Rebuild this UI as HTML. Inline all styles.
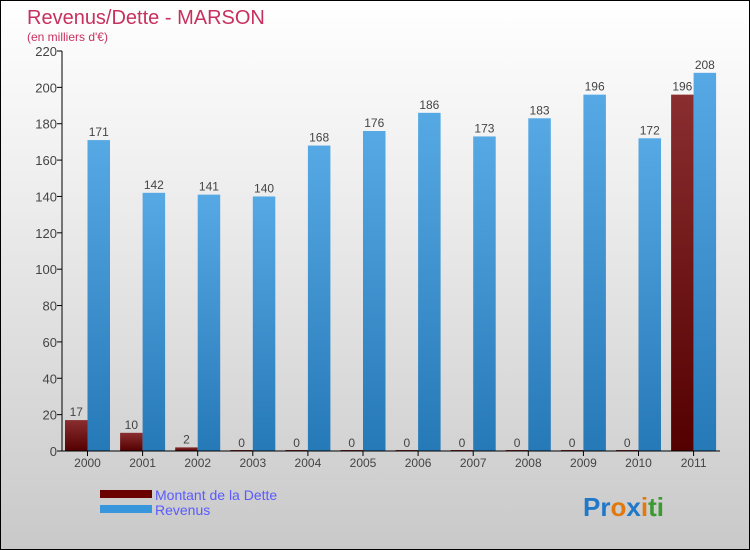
<!DOCTYPE html>
<html><head><meta charset="utf-8"><style>
body{margin:0;}
#wrap{position:relative;width:748px;height:548px;border:1px solid #000;background:linear-gradient(#fff,#f0f0f0 30%,#c9c9c9);font-family:"Liberation Sans",sans-serif;overflow:hidden}
</style></head><body>
<div id="wrap">
<svg id="c" width="748" height="548">
<defs>
<linearGradient id="gb" x1="0" y1="0" x2="0" y2="1"><stop offset="0" stop-color="#56a9e4"/><stop offset="1" stop-color="#2679b7"/></linearGradient>
<linearGradient id="gr" x1="0" y1="0" x2="0" y2="1"><stop offset="0" stop-color="#8a2e30"/><stop offset="1" stop-color="#540000"/></linearGradient>
</defs>
<text x="26" y="23" font-size="20" fill="#c8305f">Revenus/Dette - MARSON</text>
<text x="26" y="40" font-size="12" fill="#c8305f">(en milliers d'€)</text>
<g id="g"></g>
<rect x="99" y="489" width="52" height="8" fill="#6b0000"/>
<text x="154" y="499" font-size="14" fill="#5a5aff">Montant de la Dette</text>
<rect x="99" y="504" width="52" height="8" fill="#3796dc"/>
<text x="154" y="514" font-size="14" fill="#5a5aff">Revenus</text>
<text x="582" y="515" font-size="26" font-weight="bold"><tspan fill="#1f78c8">Pr</tspan><tspan fill="#e07a10">o</tspan><tspan fill="#1f78c8">x</tspan><tspan fill="#e07a10">i</tspan><tspan fill="#3a9a30">ti</tspan></text>
</svg>
</div>
<script>
const years=["2000","2001","2002","2003","2004","2005","2006","2007","2008","2009","2010","2011"];
const dette=[17,10,2,0,0,0,0,0,0,0,0,196];
const revenus=[171,142,141,140,168,176,186,173,183,196,172,208];
const ticks=[0,20,40,60,80,100,120,140,160,180,200,220];
const NS="http://www.w3.org/2000/svg";
const g=document.getElementById('g');
const y=v=>450-v*400/220;
const x0=i=>64+i*55.1;
const bw=22.5;
function mk(t,a){const e=document.createElementNS(NS,t);for(const k in a)e.setAttribute(k,a[k]);g.appendChild(e);return e;}
ticks.forEach(t=>{
 const l=mk('line',{x1:56,x2:61,y1:y(t),y2:y(t),stroke:'#000'});
 
 
 const tx=mk('text',{x:56,y:y(t)+5,'text-anchor':'end','font-size':13,fill:'#444'});tx.textContent=t;
 
 
});
years.forEach((yr,i)=>{
 const d=mk('rect',{x:x0(i),y:y(dette[i])-(dette[i]?0:1),width:bw,height:Math.max(1,y(0)-y(dette[i])),fill:'url(#gr)'});
 
 
 const r=mk('rect',{x:x0(i)+bw,y:y(revenus[i]),width:bw,height:y(0)-y(revenus[i]),fill:'url(#gb)'});
 
 
 const t1=mk('text',{x:x0(i)+bw/2,y:y(dette[i])-4,'text-anchor':'middle','font-size':12,fill:'#444'});t1.textContent=dette[i];
 
 
 const t2=mk('text',{x:x0(i)+bw*1.5,y:y(revenus[i])-4,'text-anchor':'middle','font-size':12,fill:'#444'});t2.textContent=revenus[i];
 
 
 const tk=mk('line',{x1:x0(i)+bw,x2:x0(i)+bw,y1:450,y2:455,stroke:'#000'});
 
 
 const xl=mk('text',{x:x0(i)+bw,y:466,'text-anchor':'middle','font-size':12,fill:'#444'});xl.textContent=yr;
 
 
});
const ya=mk('line',{x1:61,x2:61,y1:y(220),y2:450,stroke:'#000'});


const xa=mk('line',{x1:61,x2:719,y1:450,y2:450,stroke:'#000'});


</script>
</body></html>
